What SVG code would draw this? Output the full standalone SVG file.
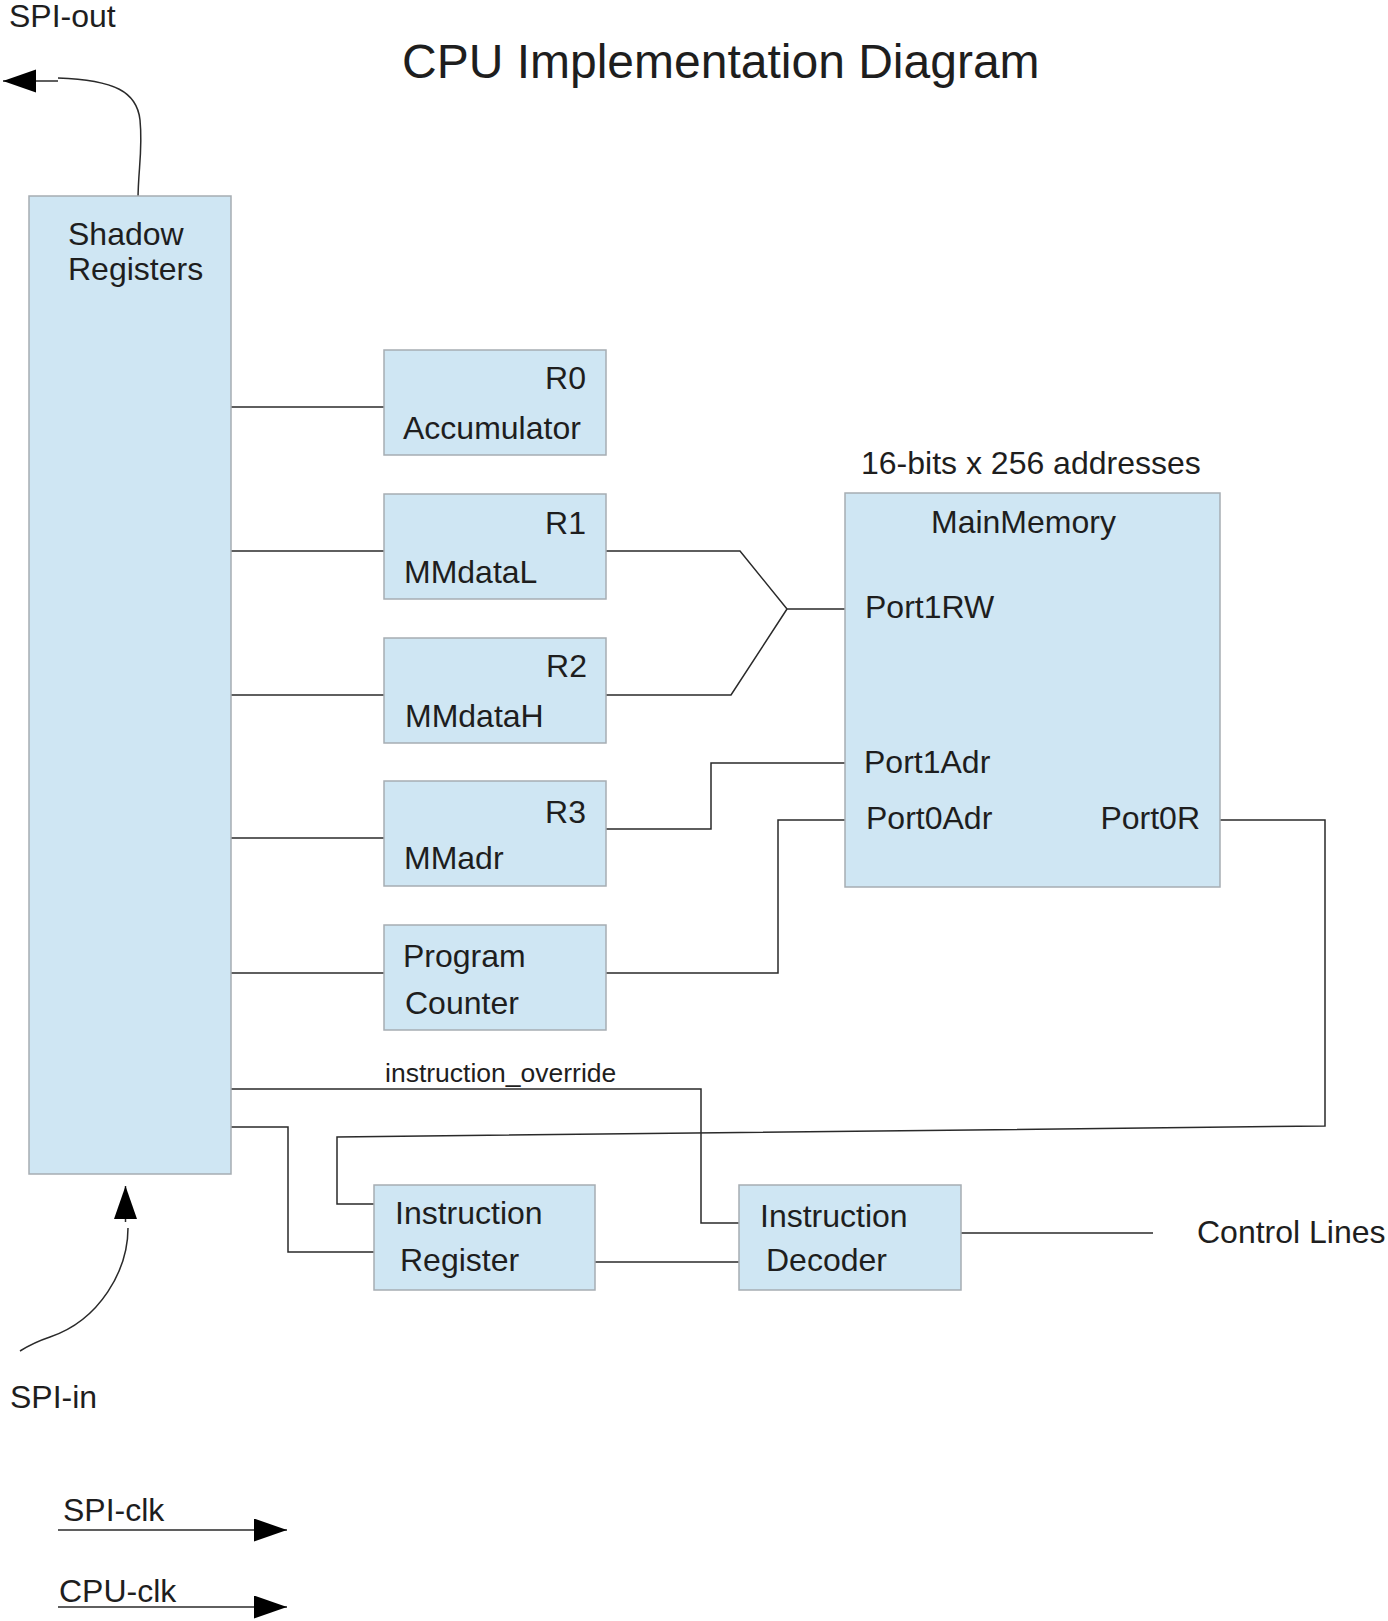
<svg xmlns="http://www.w3.org/2000/svg" width="1388" height="1621" viewBox="0 0 1388 1621">
<style>
text{font-family:"Liberation Sans",Arial,sans-serif;font-size:32px;fill:#1e1e1e}
.box{fill:#cfe6f3;stroke:#a6adb3;stroke-width:1.5}
.ln{fill:none;stroke:#2a2a2a;stroke-width:1.5}
.end{text-anchor:end}
</style>
<defs>
<marker id="ah" markerUnits="userSpaceOnUse" markerWidth="34" markerHeight="24" refX="33" refY="11.5" orient="auto">
<path d="M0,0 L33,11.5 L0,23 z" fill="#000"/>
</marker>
</defs>
<rect width="1388" height="1621" fill="#fff"/>
<text x="402" y="78" style="font-size:48px">CPU Implementation Diagram</text>
<text x="9" y="27">SPI-out</text>
<text x="10" y="1408">SPI-in</text>
<text x="63" y="1521">SPI-clk</text>
<text x="59" y="1602">CPU-clk</text>
<text x="861" y="474">16-bits x 256 addresses</text>
<text x="385" y="1082" style="font-size:26.5px">instruction_override</text>
<text x="1197" y="1243">Control Lines</text>

<g id="connectors">
<path class="ln" d="M138,200 C138,170 143,150 140,120 C137,92 115,80 58,78"/>
<line class="ln" x1="58" y1="81" x2="3" y2="81" marker-end="url(#ah)"/>
<path class="ln" d="M20,1351 C28,1346 38,1341 50,1337 C100,1320 128,1270 128,1228"/>
<line class="ln" x1="125.5" y1="1222" x2="125.5" y2="1186" marker-end="url(#ah)"/>
<line class="ln" x1="58" y1="1530" x2="287" y2="1530" marker-end="url(#ah)"/>
<line class="ln" x1="58" y1="1607" x2="287" y2="1607" marker-end="url(#ah)"/>
<line class="ln" x1="231" y1="407" x2="384" y2="407"/>
<line class="ln" x1="231" y1="551" x2="384" y2="551"/>
<line class="ln" x1="231" y1="695" x2="384" y2="695"/>
<line class="ln" x1="231" y1="838" x2="384" y2="838"/>
<line class="ln" x1="231" y1="973" x2="384" y2="973"/>
<polyline class="ln" points="606,551 740,551 787,609 845,609"/>
<polyline class="ln" points="606,695 731,695 787,609"/>
<polyline class="ln" points="606,829 711,829 711,763 845,763"/>
<polyline class="ln" points="606,973 778,973 778,820 845,820"/>
<polyline class="ln" points="1220,820 1325,820 1325,1126 337,1137 337,1204 374,1204"/>
<polyline class="ln" points="231,1089 701,1089 701,1223 739,1223"/>
<polyline class="ln" points="231,1127 288,1127 288,1252 374,1252"/>
<line class="ln" x1="595" y1="1262" x2="739" y2="1262"/>
<line class="ln" x1="961" y1="1233" x2="1153" y2="1233"/>
</g>

<g id="shadow-registers">
<rect class="box" x="29" y="196" width="202" height="978"/>
<text x="68" y="245">Shadow</text>
<text x="68" y="280">Registers</text>
</g>
<g id="r0">
<rect class="box" x="384" y="350" width="222" height="105"/>
<text class="end" x="586" y="389">R0</text>
<text x="403" y="439">Accumulator</text>
</g>
<g id="r1">
<rect class="box" x="384" y="494" width="222" height="105"/>
<text class="end" x="586" y="534">R1</text>
<text x="404" y="583">MMdataL</text>
</g>
<g id="r2">
<rect class="box" x="384" y="638" width="222" height="105"/>
<text class="end" x="587" y="677">R2</text>
<text x="405" y="727">MMdataH</text>
</g>
<g id="r3">
<rect class="box" x="384" y="781" width="222" height="105"/>
<text class="end" x="586" y="823">R3</text>
<text x="404" y="869">MMadr</text>
</g>
<g id="program-counter">
<rect class="box" x="384" y="925" width="222" height="105"/>
<text x="403" y="967">Program</text>
<text x="405" y="1014">Counter</text>
</g>
<g id="main-memory">
<rect class="box" x="845" y="493" width="375" height="394"/>
<text x="931" y="533">MainMemory</text>
<text x="865" y="618">Port1RW</text>
<text x="864" y="773">Port1Adr</text>
<text x="866" y="829">Port0Adr</text>
<text class="end" x="1200" y="829">Port0R</text>
</g>
<g id="instruction-register">
<rect class="box" x="374" y="1185" width="221" height="105"/>
<text x="395" y="1224">Instruction</text>
<text x="400" y="1271">Register</text>
</g>
<g id="instruction-decoder">
<rect class="box" x="739" y="1185" width="222" height="105"/>
<text x="760" y="1227">Instruction</text>
<text x="766" y="1271">Decoder</text>
</g>
</svg>
